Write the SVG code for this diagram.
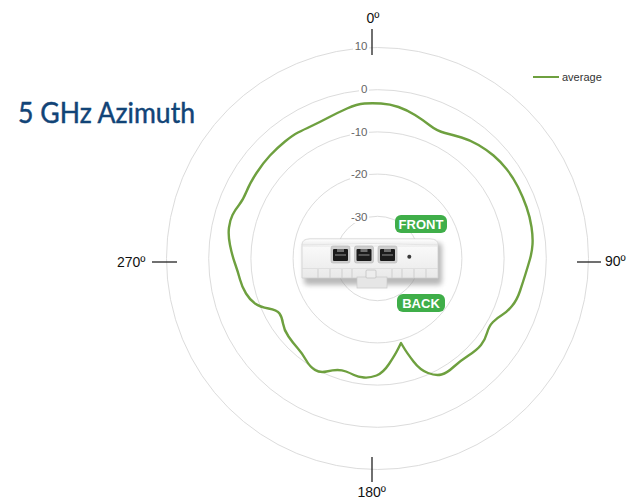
<svg xmlns="http://www.w3.org/2000/svg" width="639" height="499" viewBox="0 0 639 499">
<defs>
<style>
.ring{fill:none;stroke:#dcdcdc;stroke-width:1}
.rl{font-family:"Liberation Sans",Arial,sans-serif;font-size:11.5px;fill:#666;text-anchor:end}
.deg{font-family:"Liberation Sans",Arial,sans-serif;font-size:14px;fill:#111}
.tick{stroke:#222;stroke-width:1.3}
.pill{fill:#3fae49}
.pt{font-family:"Liberation Sans",Arial,sans-serif;font-size:13px;font-weight:bold;fill:#fff;text-anchor:middle}
.bez{fill:#cfcfcf;stroke:#b5b5b5;stroke-width:0.6}
.jack{fill:#1b1b1b}
.clip{fill:#6e6e6e}
.rib{stroke:#cfcfcf;stroke-width:1}
</style>
<linearGradient id="bodyG" x1="0" y1="0" x2="0" y2="1">
<stop offset="0" stop-color="#fdfdfd"/>
<stop offset="1" stop-color="#e9e9e9"/>
</linearGradient>
<linearGradient id="topG" x1="0" y1="0" x2="0" y2="1">
<stop offset="0" stop-color="#ffffff"/>
<stop offset="1" stop-color="#ececec"/>
</linearGradient>
<filter id="sh" x="-20%" y="-30%" width="140%" height="170%">
<feGaussianBlur stdDeviation="2.5"/>
</filter>
</defs>
<rect width="639" height="499" fill="#fff"/>

<g id="grid">
<circle class="ring" cx="377.5" cy="258.5" r="42.2"/>
<circle class="ring" cx="377.5" cy="258.5" r="84.4"/>
<circle class="ring" cx="377.5" cy="258.5" r="126.6"/>
<circle class="ring" cx="377.5" cy="258.5" r="168.8"/>
<circle class="ring" cx="377.5" cy="258.5" r="211"/>
</g>

<g id="axes">
<line class="tick" x1="372" y1="29" x2="372" y2="55"/>
<line class="tick" x1="372" y1="457" x2="372" y2="482"/>
<line class="tick" x1="152" y1="262" x2="177" y2="262"/>
<line class="tick" x1="577" y1="262" x2="601" y2="262"/>
<text class="deg" x="366.5" y="23">0º</text>
<text class="deg" x="357.5" y="497">180º</text>
<text class="deg" x="117" y="267">270º</text>
<text class="deg" x="605" y="266">90º</text>
</g>

<g id="ring-labels">
<rect x="353" y="40" width="16" height="12" fill="#fff"/>
<text class="rl" x="367.5" y="50">10</text>
<rect x="359" y="83" width="10" height="12" fill="#fff"/>
<text class="rl" x="367.5" y="93">0</text>
<rect x="350" y="126" width="19" height="12" fill="#fff"/>
<text class="rl" x="367.5" y="136">-10</text>
<rect x="350" y="168" width="19" height="12" fill="#fff"/>
<text class="rl" x="367.5" y="178">-20</text>
<rect x="350" y="211" width="19" height="12" fill="#fff"/>
<text class="rl" x="367.5" y="220.5">-30</text>
</g>

<g id="device">
<rect x="304" y="243" width="138" height="42" rx="4" fill="#8a8a8a" opacity="0.6" filter="url(#sh)"/>
<path d="M302,245 Q302,239 310,239 L430,239 Q438,239 438,245 L438,278 L302,278 Z" fill="url(#bodyG)" stroke="#cfcfcf" stroke-width="0.8"/>
<path d="M302,245 Q302,239 310,239 L430,239 Q438,239 438,245 Q370,242 302,245 Z" fill="url(#topG)" stroke="#d8d8d8" stroke-width="0.6"/>
<line x1="302" y1="246" x2="438" y2="246" stroke="#e2e2e2" stroke-width="0.8"/>
<g>
<rect class="bez" x="331" y="246" width="19" height="17" rx="2"/>
<rect class="jack" x="333" y="249" width="15" height="12" rx="1"/>
<rect class="clip" x="337" y="249" width="7" height="3"/>
<rect x="335" y="254" width="11" height="2" fill="#555"/>
<rect class="bez" x="354.5" y="246" width="19" height="17" rx="2"/>
<rect class="jack" x="356.5" y="249" width="15" height="12" rx="1"/>
<rect class="clip" x="360.5" y="249" width="7" height="3"/>
<rect x="358.5" y="254" width="11" height="2" fill="#555"/>
<rect class="bez" x="378" y="246" width="19" height="17" rx="2"/>
<rect class="jack" x="380" y="249" width="15" height="12" rx="1"/>
<rect class="clip" x="384" y="249" width="7" height="3"/>
<rect x="382" y="254" width="11" height="2" fill="#555"/>
</g>
<circle cx="409.3" cy="256.7" r="2" fill="#3a3a3a"/>
<g>
<line x1="302" y1="268.5" x2="438" y2="268.5" stroke="#dadada" stroke-width="0.8"/>
<line class="rib" x1="318" y1="269" x2="318" y2="278"/>
<line class="rib" x1="330" y1="269" x2="330" y2="278"/>
<line class="rib" x1="342" y1="269" x2="342" y2="278"/>
<line class="rib" x1="352" y1="269" x2="352" y2="278"/>
<line class="rib" x1="392" y1="269" x2="392" y2="278"/>
<line class="rib" x1="402" y1="269" x2="402" y2="278"/>
<line class="rib" x1="414" y1="269" x2="414" y2="278"/>
<line class="rib" x1="426" y1="269" x2="426" y2="278"/>
</g>
<rect x="357" y="277" width="30" height="11" fill="#e6e6e6" stroke="#c9c9c9" stroke-width="0.7"/>
<rect x="366" y="270" width="10" height="8" rx="1" fill="#ededed" stroke="#bdbdbd" stroke-width="0.7"/>
</g>

<g id="front">
<rect class="pill" x="395" y="215" width="52" height="18" rx="6"/>
<text class="pt" x="421" y="229">FRONT</text>
</g>
<g id="back">
<rect class="pill" x="397" y="294" width="48" height="18" rx="6"/>
<text class="pt" x="421" y="308">BACK</text>
</g>

<g id="curve">
<path fill="none" stroke="#6ea03f" stroke-width="2.4" stroke-linejoin="round" d="M364.5,103.5 Q372,103 381,103.5 Q390,104 398.5,107 Q407,110 415,115 Q423,120 430,125.5 Q437,131 445,133 Q453,135 461.5,137.5 Q470,140 478.5,145 Q487,150 493.5,155.5 Q500,161 506.5,169 Q513,177 518,187 Q523,197 526.5,207 Q530,217 531.5,227 Q533,237 532.5,244.5 Q532,252 530,259 Q528,266 525.5,274 Q523,282 520,291 Q517,300 512,306 Q507,312 502,315 Q497,318 493,322 Q489,326 487,333 Q485,340 481,345 Q477,350 468.5,355.5 Q460,361 453.5,367 Q447,373 441.5,374.5 Q436,376 428,373 Q420,370 413.5,361.5 Q407,353 404,348 L401,343 L398,349 Q395,355 389,364 Q383,373 376.5,375.5 Q370,378 364,377.5 Q358,377 354,375 Q350,373 346,371.5 Q342,370 337.5,370 Q333,370 326.5,371.5 Q320,373 315,370 Q310,367 306,360 Q302,353 297.5,348 Q293,343 288.5,336.5 Q284,330 283,323.5 Q282,317 279.5,313.5 Q277,310 268.5,308.5 Q260,307 255,303.5 Q250,300 246,293.5 Q242,287 240,279.5 Q238,272 235,263.5 Q232,255 230,245 Q228,235 229,227.5 Q230,220 232.5,215 Q235,210 239,205 Q243,200 246.5,191.5 Q250,183 256.5,173 Q263,163 270,155.5 Q277,148 285,141.5 Q293,135 298,132.5 Q303,130 311.5,126 Q320,122 328.5,117.5 Q337,113 347,108.5 Q357,104 364.5,103.5 Z"/>
</g>

<g id="legend">
<line x1="533" y1="77" x2="559" y2="77" stroke="#6ea03f" stroke-width="2"/>
<text x="562" y="81" font-family="'Liberation Sans',Arial,sans-serif" font-size="11" fill="#333">average</text>
</g>

<g id="title">
<text x="18" y="123" font-family="Lato,'Liberation Sans',Arial,sans-serif" font-size="28" fill="#114477" stroke="#114477" stroke-width="0.45" textLength="177" lengthAdjust="spacingAndGlyphs">5 GHz Azimuth</text>
</g>
</svg>
